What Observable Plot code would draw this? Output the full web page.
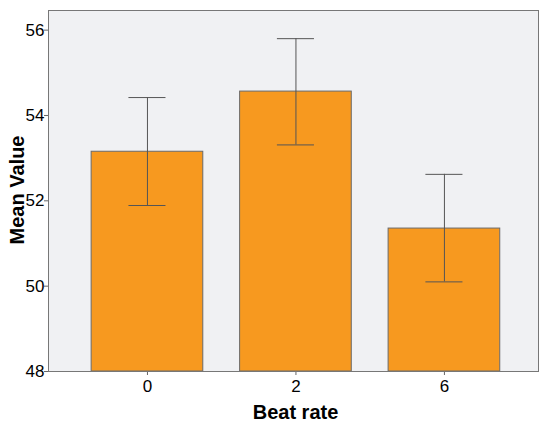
<!DOCTYPE html>
<html>
<head>
<meta charset="utf-8">
<script src="https://cdn.jsdelivr.net/npm/d3@7"></script>
<script src="https://cdn.jsdelivr.net/npm/@observablehq/plot@0.6"></script>
<style>
  html, body { margin: 0; padding: 0; background: #fff; }
  svg { display: block; }
  svg g[aria-label$='tick label'] text { font-size: 17px !important; font-family: 'Liberation Sans', Arial, sans-serif !important; }
</style>
</head>
<body>
<div id="chart"></div>
<script>
const categories = ["0", "2", "6"];
const means = [53.15, 54.56, 51.35];
const lower = [51.89, 53.31, 50.10];
const upper = [54.42, 55.80, 52.62];
const yTicks = [48, 50, 52, 54, 56];

const data = categories.map((c, i) => ({cat: c, mean: means[i], lo: lower[i], hi: upper[i]}));

const chart = Plot.plot({
  width: 539,
  height: 424,
  marginLeft: 48,
  marginTop: 10,
  marginRight: 1,
  marginBottom: 53,
  style: {fontFamily: "'Liberation Sans', Arial, sans-serif", fontSize: "17px", color: "#000", background: "#fff"},
  x: {domain: categories, paddingInner: 0.248, paddingOuter: 0.274, align: 0.53, round: false, label: null},
  y: {domain: [48, 56.46], label: null},
  marks: [
    Plot.frame({fill: "#f0f1f3"}),
    Plot.barY(data, {x: "cat", y1: 48, y2: "mean", fill: "#f7991f", stroke: "#6a6a6a", strokeWidth: 1}),
    Plot.ruleX(data, {x: "cat", y1: "lo", y2: "hi", stroke: "#555", strokeWidth: 1}),
    Plot.tickY(data, {x: "cat", y: "hi", stroke: "#555", strokeWidth: 1, insetLeft: 37.3, insetRight: 37.3}),
    Plot.tickY(data, {x: "cat", y: "lo", stroke: "#555", strokeWidth: 1, insetLeft: 37.3, insetRight: 37.3}),
    Plot.axisY({ticks: yTicks, tickSize: 4, tickPadding: 0, stroke: "#666", fill: "#000", fontSize: 17, label: null}),
    Plot.axisX({tickSize: 4, tickPadding: 4, stroke: "#666", fill: "#000", fontSize: 17, label: null}),
    Plot.frame({stroke: "#777", strokeWidth: 1})
  ]
});

const svg = d3.select(chart);
svg.append("text")
  .attr("x", 295.5).attr("y", 419)
  .attr("text-anchor", "middle")
  .attr("font-family", "'Liberation Sans', Arial, sans-serif")
  .attr("font-size", 20).attr("font-weight", "bold").attr("fill", "#000")
  .text("Beat rate");
svg.append("text")
  .attr("transform", "translate(24,190) rotate(-90)")
  .attr("text-anchor", "middle")
  .attr("font-family", "'Liberation Sans', Arial, sans-serif")
  .attr("font-size", 20).attr("font-weight", "bold").attr("fill", "#000")
  .text("Mean Value");

document.getElementById("chart").appendChild(chart);
</script>
</body>
</html>
